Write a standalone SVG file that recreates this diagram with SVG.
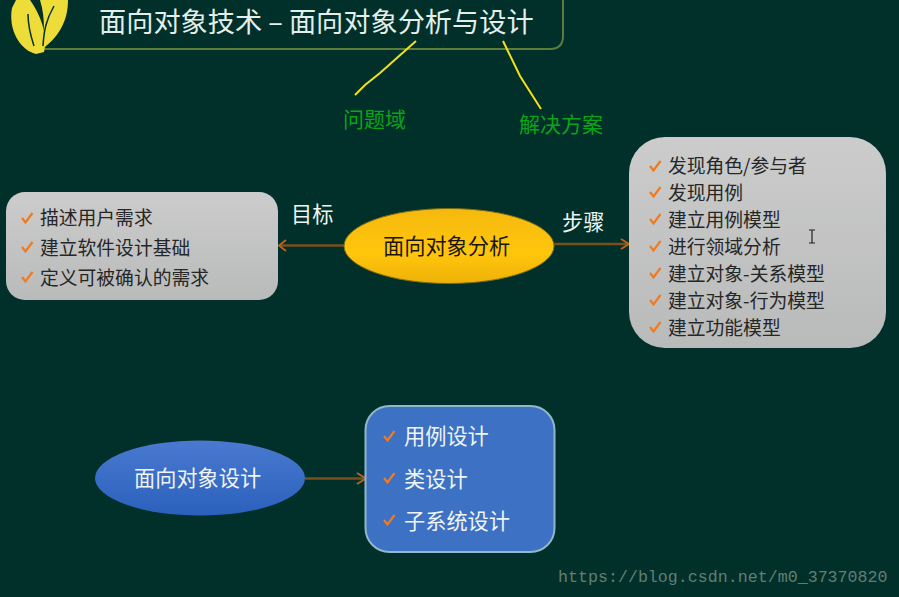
<svg xmlns="http://www.w3.org/2000/svg" width="899" height="597" viewBox="0 0 899 597">
<style>
text{font-family:"Noto Sans CJK SC","Liberation Sans",sans-serif}
.w{fill:#e4eeea}
.d{fill:#262626;font-size:18.800px}
.l{fill:#f0f4f2;font-size:21.200px}
.g{fill:#0aa31a;font-size:21px}
.c{fill:none;stroke:#f07a20;stroke-width:2.2}
.y{fill:none;stroke:#f2e21c;stroke-width:2}
.a{stroke:#7a4f1c;stroke-width:2.500;fill:none}
.h{fill:none;stroke:#c0641c;stroke-width:1.800}
</style>
<defs>
<linearGradient id="gr" x1="0" y1="0" x2="0" y2="1"><stop offset="0" stop-color="#cbcccb"/><stop offset="1" stop-color="#b9baba"/></linearGradient>
<linearGradient id="or" x1="0" y1="0" x2="0" y2="1"><stop offset="0" stop-color="#f5b90e"/><stop offset=".6" stop-color="#ffc60c"/><stop offset="1" stop-color="#eeb108"/></linearGradient>
<linearGradient id="bl" x1="0" y1="0" x2="0" y2="1"><stop offset="0" stop-color="#4a7ad0"/><stop offset="1" stop-color="#2a60bc"/></linearGradient>
<path id="ck" d="M0 0l3.500 4.500 7-9.500" class="c"/>
</defs>
<rect width="899" height="597" fill="#01302a"/>
<g id="title">
<path d="M40 49H550q13 0 13-13V-2" fill="none" stroke="#5c7c3c" stroke-width="2"/>
<path d="M36 54C20 50 8 30 12 8L16 0H30C40 14 48 34 44 52Z" fill="#eedd38"/>
<path d="M41 50C44 36 46 20 40 0H68C68 22 58 38 41 50Z" fill="#eedd38"/>
<path d="M34 46C30 34 28 26 28 14" fill="none" stroke="#01302a" stroke-width="1.500"/>
<path d="M43 46C44 30 46 20 54 6" fill="none" stroke="#01302a" stroke-width="1.500"/>
<text x="99" y="32" font-size="27.200" class="w">面向对象技术 – 面向对象分析与设计</text>
</g>
<g id="connectors">
<path class="y" d="M416 41L380 73L365 85L355 95"/>
<path class="y" d="M503 41L520 76L541 109"/>
<path class="a" d="M279 245.500H344"/>
<path class="h" d="M286 240L279 245.500L286 251"/>
<path class="a" d="M554 244H629"/>
<path class="h" d="M621 239L629 244L621 249"/>
<path class="a" d="M305 478.500H365"/>
<path class="h" d="M357 473L366 478.500L357 484"/>
</g>
<g id="label-problem"><text x="343" y="127" class="g">问题域</text></g>
<g id="label-solution"><text x="519" y="132" class="g">解决方案</text></g>
<g id="label-goal"><text x="291" y="222" class="l">目标</text></g>
<g id="label-steps"><text x="562" y="230" class="l">步骤</text></g>
<g id="goals">
<rect x="6" y="192" width="272" height="108" rx="19" fill="url(#gr)"/>
<use href="#ck" x="22" y="218"/><use href="#ck" x="22" y="247"/><use href="#ck" x="22" y="277"/>
<text x="40" y="225" class="d">描述用户需求</text>
<text x="40" y="255" class="d">建立软件设计基础</text>
<text x="40" y="285" class="d">定义可被确认的需求</text>
</g>
<g id="analysis">
<ellipse cx="449" cy="246" rx="105" ry="37.500" fill="url(#or)" stroke="#7a6a10"/>
<text x="383" y="254" class="l" style="fill:#1a1408">面向对象分析</text>
</g>
<g id="steps">
<rect x="629" y="137" width="257" height="211" rx="36" fill="url(#gr)"/>
<g><use href="#ck" x="650" y="166"/><use href="#ck" x="650" y="192"/><use href="#ck" x="650" y="219"/><use href="#ck" x="650" y="246"/><use href="#ck" x="650" y="273"/><use href="#ck" x="650" y="300"/><use href="#ck" x="650" y="327"/></g>
<text x="668" y="173" class="d">发现角色/参与者</text>
<text x="668" y="200" class="d">发现用例</text>
<text x="668" y="227" class="d">建立用例模型</text>
<text x="668" y="254" class="d">进行领域分析</text>
<text x="668" y="281" class="d">建立对象-关系模型</text>
<text x="668" y="308" class="d">建立对象-行为模型</text>
<text x="668" y="335" class="d">建立功能模型</text>
<path d="M809 230h6M812 230v13M809 243h6" fill="none" stroke="#222" stroke-width="1.200"/>
</g>
<g id="design">
<ellipse cx="200" cy="478" rx="105" ry="37.500" fill="url(#bl)"/>
<text x="134" y="486" class="l">面向对象设计</text>
</g>
<g id="design-list">
<rect x="365.500" y="406" width="189" height="146" rx="24" fill="#3c71c4" stroke="#8fb8c8" stroke-width="2"/>
<use href="#ck" x="384" y="436"/><use href="#ck" x="384" y="478"/><use href="#ck" x="384" y="520"/>
<text x="404" y="444" class="l">用例设计</text>
<text x="404" y="487" class="l">类设计</text>
<text x="404" y="529" class="l">子系统设计</text>
</g>
<g id="watermark"><text x="558" y="582" font-size="16.650" fill="#5f7f74" style="font-family:'Liberation Mono',monospace">https://blog.csdn.net/m0_37370820</text></g>
</svg>
